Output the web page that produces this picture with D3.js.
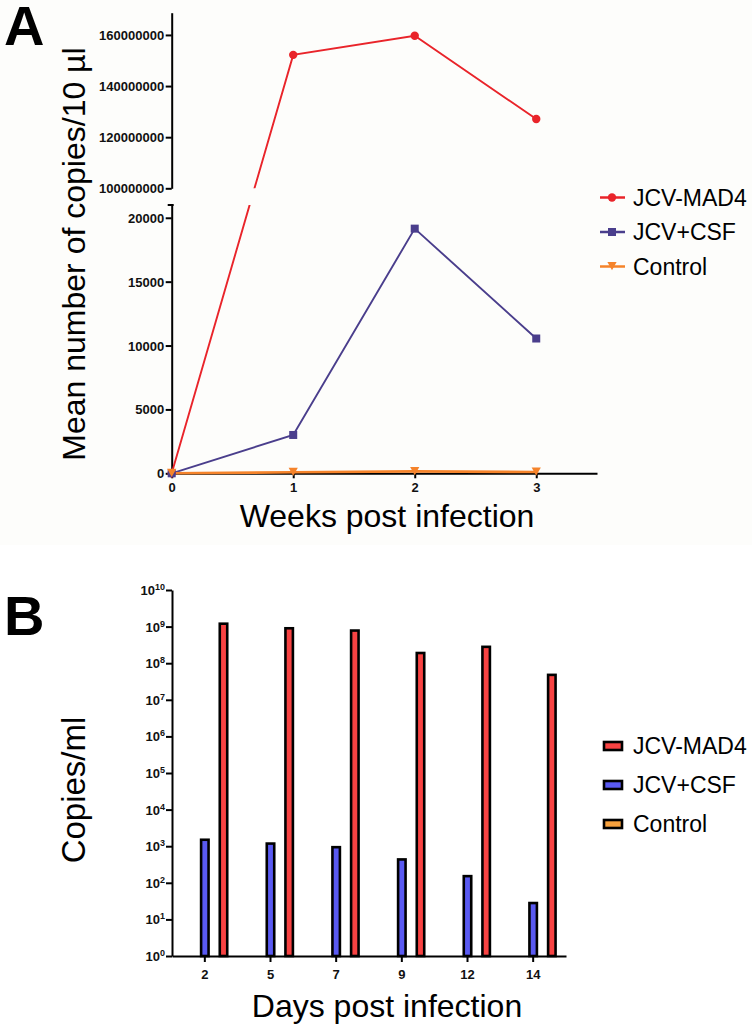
<!DOCTYPE html>
<html><head><meta charset="utf-8">
<script src="https://cdn.jsdelivr.net/npm/d3@7"></script>
<style>
html,body{margin:0;padding:0;background:#fff;}
svg{display:block;font-family:"Liberation Sans",Arial,sans-serif;}
</style></head>
<body><svg id="chart" width="752" height="1029"></svg>
<script>
// ---------- Panel A data ----------
const weeks = [0, 1, 2, 3];
const seriesA = ["JCV-MAD4", "JCV+CSF", "Control"];
const mad4Weekly = [0, 152200000, 159700000, 127100000];
const csfWeekly = [0, 3000, 19150, 10550];
const controlWeekly = [0, 80, 150, 100];
const lowTicksA = [0, 5000, 10000, 15000, 20000];
const highTicksA = [100000000, 120000000, 140000000, 160000000];

// ---------- Panel B data ----------
const days = ["2", "5", "7", "9", "12", "14"];
const seriesB = ["JCV-MAD4", "JCV+CSF", "Control"];
const mad4Daily = [1.2e9, 9.0e8, 7.8e8, 1.9e8, 2.8e8, 4.8e7];
const csfDaily = [1500, 1180, 940, 435, 152, 28];
const controlDaily = [0, 0, 0, 0, 0, 0];
const logTicksB = [0,1,2,3,4,5,6,7,8,9,10];

const svg = d3.select("#chart");
svg.append("rect").attr("x",0).attr("y",0).attr("width",752).attr("height",545).attr("fill","#fdfdfb");

const colA = {"JCV-MAD4":"#e9242a","JCV+CSF":"#4a3e8c","Control":"#f5832a"};
const colB = {"JCV-MAD4":"#f84343","JCV+CSF":"#5a5af2","Control":"#f8a23e"};

// ================= Panel A =================
const xA = d3.scaleLinear().domain([0, 3.5]).range([171.7, 597]);
const yLow = d3.scaleLinear().domain([0, 21000]).range([473.3, 205]);
const yHigh = d3.scaleLinear().domain([100000000, 168700000]).range([188.3, 12.7]);
const yA = v => v >= 100000000 ? yHigh(v) : yLow(v);

const gA = svg.append("g");
const defs = svg.append("defs");
const cp = defs.append("clipPath").attr("id","brk");
cp.append("rect").attr("x",0).attr("y",0).attr("width",752).attr("height",yHigh.range()[0]);
cp.append("rect").attr("x",0).attr("y",yLow.range()[1]).attr("width",752).attr("height",400);

const axLow = d3.axisLeft(yLow).tickValues(lowTicksA).tickFormat(d3.format("d")).tickSize(6).tickSizeOuter(0);
const gLow = gA.append("g").attr("transform",`translate(${xA(0)},0)`).call(axLow);
const axHigh = d3.axisLeft(yHigh).tickValues(highTicksA).tickFormat(d3.format("d")).tickSize(6).tickSizeOuter(0);
const gHigh = gA.append("g").attr("transform",`translate(${xA(0)},0)`).call(axHigh);
[gLow,gHigh].forEach(g=>{
  g.select(".domain").attr("stroke","#000").attr("stroke-width",2);
  g.selectAll(".tick line").attr("stroke","#000").attr("stroke-width",2);
  g.selectAll(".tick text").attr("font-size",13).attr("font-weight","bold").attr("fill","#111").attr("x",-7.5).attr("dy","0.35em");
});
gA.append("line").attr("x1",xA(0)-4).attr("x2",xA(0)+2).attr("y1",yLow.range()[1]).attr("y2",yLow.range()[1]).attr("stroke","#000").attr("stroke-width",2);

const axXA = d3.axisBottom(xA).tickValues(weeks).tickFormat(d3.format("d")).tickSize(5).tickSizeOuter(0);
const gXA = gA.append("g").attr("transform",`translate(0,${yLow(0)})`).call(axXA);
gXA.select(".domain").attr("stroke","#000").attr("stroke-width",2);
gXA.selectAll(".tick line").attr("stroke","#000").attr("stroke-width",2);
gXA.selectAll(".tick text").attr("font-size",13).attr("font-weight","bold").attr("fill","#111").attr("y",9).attr("dy","0.71em");

const dataA = [
  {name:"JCV-MAD4", vals:mad4Weekly},
  {name:"JCV+CSF", vals:csfWeekly},
  {name:"Control", vals:controlWeekly}
];
const line = d3.line().x((d,i)=>xA(weeks[i])).y(d=>yA(d));
dataA.forEach(s=>{
  gA.append("path").attr("d",line(s.vals)).attr("fill","none")
    .attr("stroke",colA[s.name]).attr("stroke-width", s.name==="Control"?2.6:1.9)
    .attr("clip-path","url(#brk)");
});
function marker(g, name, x, y){
  const c = colA[name];
  if(name==="JCV-MAD4") g.append("circle").attr("cx",x).attr("cy",y).attr("r",4.2).attr("fill",c);
  else if(name==="JCV+CSF") g.append("rect").attr("x",x-4).attr("y",y-4).attr("width",8).attr("height",8).attr("fill",c);
  else g.append("path").attr("d",`M${x-4.6},${y-4.5}L${x+4.6},${y-4.5}L${x},${y+3.8}Z`).attr("fill",c);
}
dataA.forEach(s=>{
  s.vals.forEach((v,i)=>marker(gA, s.name, xA(weeks[i]), yA(v)));
});

gA.append("text").attr("transform",`translate(85,254) rotate(-90)`).attr("text-anchor","middle")
  .attr("font-size",32).attr("fill","#000").text("Mean number of copies/10 µl");
gA.append("text").attr("x",387).attr("y",527).attr("text-anchor","middle").attr("font-size",32).attr("fill","#000").text("Weeks post infection");
gA.append("text").attr("x",4).attr("y",45).attr("font-size",56).attr("font-weight","bold").attr("fill","#000").text("A");

const legA = d3.scalePoint().domain(seriesA).range([197.5, 266.5]);
seriesA.forEach(n=>{
  const y = legA(n);
  gA.append("line").attr("x1",600).attr("x2",625).attr("y1",y).attr("y2",y).attr("stroke",colA[n]).attr("stroke-width",2.5);
  marker(gA, n, 612, y);
  gA.append("text").attr("x",633).attr("y",y).attr("dy","0.36em").attr("font-size",23).attr("fill","#000").text(n);
});

// ================= Panel B =================
const gB = svg.append("g");
const xB = d3.scaleBand().domain(days).range([172, 566]);
const xSub = d3.scaleBand().domain(["Control","JCV+CSF","JCV-MAD4"]).range([-28, 28]).paddingInner(0.6).paddingOuter(0.3);
const yB = d3.scaleLog().domain([1, 1e10]).range([956, 590]);

const dataB = {"JCV-MAD4":mad4Daily, "JCV+CSF":csfDaily, "Control":controlDaily};
["Control","JCV+CSF","JCV-MAD4"].forEach(n=>{
  dataB[n].forEach((v,i)=>{
    if(!(v > 1)) return;
    const cx = xB(days[i]) + xB.bandwidth()/2;
    gB.append("rect").attr("x",cx + xSub(n)).attr("y",yB(v)).attr("width",xSub.bandwidth())
      .attr("height",yB(1)-yB(v)).attr("fill",colB[n]).attr("stroke","#000").attr("stroke-width",2.6);
  });
});

const axYB = d3.axisLeft(yB).tickValues(logTicksB.map(e=>Math.pow(10,e))).tickFormat("").tickSize(6).tickSizeOuter(0);
const gYB = gB.append("g").attr("transform",`translate(172,0)`).call(axYB);
gYB.select(".domain").attr("stroke","#000").attr("stroke-width",2);
gYB.selectAll(".tick line").attr("stroke","#000").attr("stroke-width",2);
gYB.selectAll(".tick").each(function(d){
  const e = Math.round(Math.log10(d));
  const t = d3.select(this).append("text").attr("x",-7).attr("dy","0.35em").attr("text-anchor","end")
    .attr("fill","#111").attr("font-weight","bold").attr("font-size",13);
  t.append("tspan").text("10");
  t.append("tspan").attr("font-size",9).attr("dy",-5).text(String(e));
});

const axXB = d3.axisBottom(xB).tickSize(6).tickSizeOuter(0);
const gXB = gB.append("g").attr("transform",`translate(0,${yB(1)})`).call(axXB);
gXB.select(".domain").attr("stroke","#000").attr("stroke-width",2);
gXB.selectAll(".tick line").attr("stroke","#000").attr("stroke-width",2);
gXB.selectAll(".tick text").attr("font-size",13).attr("font-weight","bold").attr("fill","#111").attr("y",14).attr("dy","0.71em");

gB.append("text").attr("transform",`translate(85,790) rotate(-90)`).attr("text-anchor","middle")
  .attr("font-size",33).attr("fill","#000").text("Copies/ml");
gB.append("text").attr("x",387).attr("y",1017).attr("text-anchor","middle").attr("font-size",32).attr("fill","#000").text("Days post infection");
gB.append("text").attr("x",4).attr("y",635).attr("font-size",56).attr("font-weight","bold").attr("fill","#000").text("B");

const legB = d3.scalePoint().domain(seriesB).range([746, 824]);
seriesB.forEach(n=>{
  const y = legB(n);
  gB.append("rect").attr("x",604).attr("y",y-4).attr("width",18).attr("height",8).attr("fill",colB[n]).attr("stroke","#000").attr("stroke-width",2.6);
  gB.append("text").attr("x",633).attr("y",y).attr("dy","0.36em").attr("font-size",23).attr("fill","#000").text(n);
});
</script></body></html>
